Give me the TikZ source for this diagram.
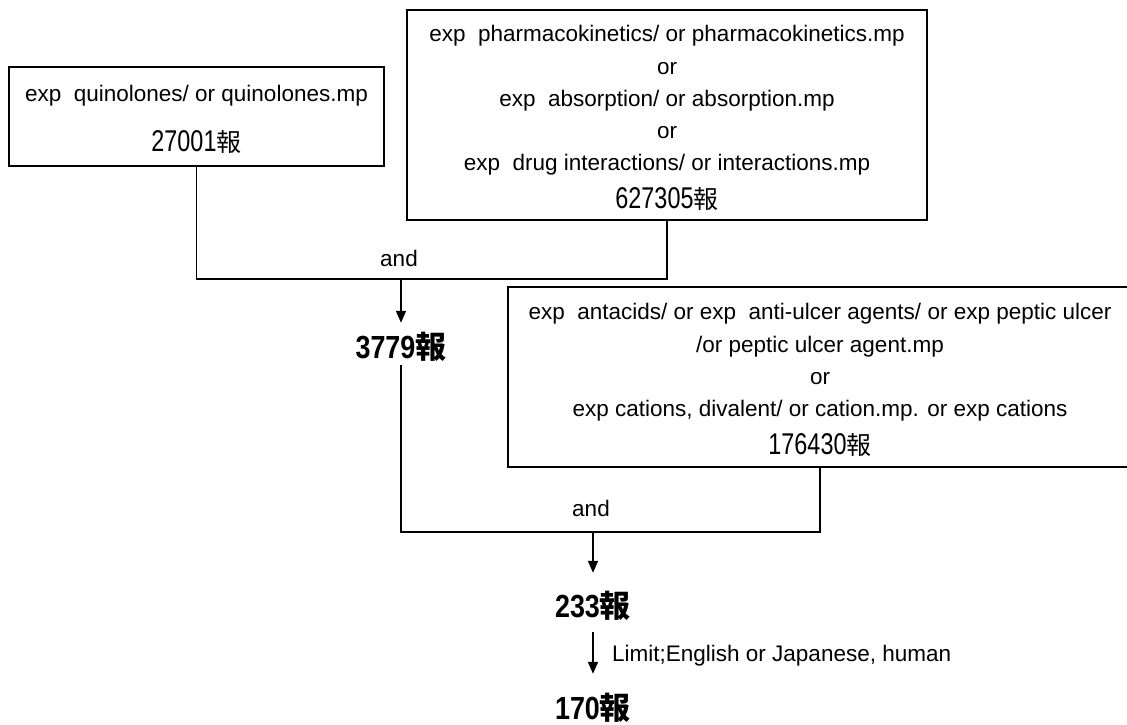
\documentclass[tikz,border=0pt]{standalone}
\usepackage{fontspec}
\setmainfont{Liberation Sans}
\newfontfamily\numf[FakeStretch=0.78]{Liberation Sans}
\newfontfamily\numbf[FakeStretch=0.84]{Liberation Sans Bold}
\newfontfamily\jpf{Noto Sans CJK JP}
\usetikzlibrary{arrows.meta}

% hit counts: narrow digits followed by the Japanese counter
\newcommand\regcount[1]{{\fontsize{30}{30}\selectfont\numf #1}{\fontsize{25}{25}\selectfont\jpf 報}}
\newcommand\boldcount[1]{{\fontsize{32}{32}\selectfont\numbf #1}{\fontsize{31}{31}\selectfont\jpf\bfseries 報}}
% taller first line so the text block sits a little lower in its box
\newcommand\topstrut{\rule{0pt}{22pt}}

\tikzset{
  query/.style={draw, line width=1.8pt, inner sep=0pt, align=center,
                font=\fontsize{22.5}{32.3}\selectfont},
  link/.style={line width=1.8pt},
  arr/.style={link, -{Triangle[width=10pt,length=12pt]}},
  count/.style={anchor=base, inner sep=0pt, text height=23pt, text depth=2pt},
  lbl/.style={font=\fontsize{22.5}{27}\selectfont, inner sep=0pt},
}

\begin{document}
\begin{tikzpicture}[x=1pt, y=-1pt]
\useasboundingbox (0,0) rectangle (1127,724);

% search sets
\node[query, minimum width=375pt, minimum height=99pt] (A) at (196.5,116.5)
  {\topstrut exp\ \ quinolones/ or quinolones.mp\\[18pt]\regcount{27001}};

\node[query, minimum width=520pt, minimum height=210pt] (B) at (667,115)
  {\topstrut exp\ \ pharmacokinetics/ or pharmacokinetics.mp\\
   or\\
   exp\ \ absorption/ or absorption.mp\\
   or\\
   exp\ \ drug interactions/ or interactions.mp\\[5pt]
   \regcount{627305}};

\node[query, minimum width=624pt, minimum height=180pt] (C) at (820,377)
  {\topstrut exp\ \ antacids/ or exp\ \ anti-ulcer agents/ or exp peptic ulcer\\
   /or peptic ulcer agent.mp\\
   or\\
   exp cations, divalent/ or cation.mp. or exp cations\\[5pt]
   \regcount{176430}};

% combined results
\node[count] (n3779) at (401,358) {\boldcount{3779}};
\node[count] (n233) at (593,617) {\boldcount{233}};
\node[count] (n170) at (593,719) {\boldcount{170}};

% junctions of the AND combinations
\coordinate (j1) at (401,279);
\coordinate (j2) at (593,532);

\node[lbl] (and1) at (399,258) {and};
\node[lbl] (and2) at (591,508) {and};

% first combination
\draw[link] (A.south) |- (j1) -| (B.south);
\draw[arr, shorten >=12pt] (j1) -- (j1 |- n3779.north);

% second combination
\draw[link, shorten <=5pt] (n3779.south) |- (j2) -| (C.south);
\draw[arr, shorten >=21pt] (j2) -- (j2 |- n233.north);

% limits
\draw[arr, shorten <=13pt, shorten >=22pt] (n233.south) -- (n170.north);
\node[lbl, anchor=base west] (lim) at (612,661) {Limit;English or Japanese, human};
\end{tikzpicture}
\end{document}
